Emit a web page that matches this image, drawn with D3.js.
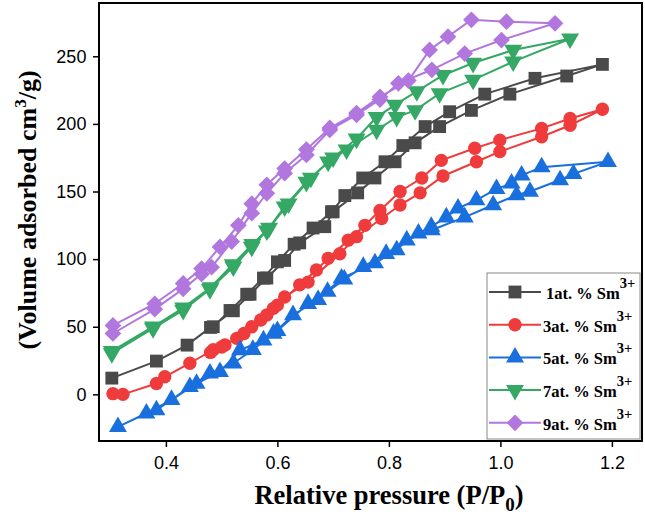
<!DOCTYPE html>
<html><head><meta charset="utf-8">
<script src="https://cdn.jsdelivr.net/npm/d3@7"></script>
<style>body{margin:0;background:#fff}svg{display:block}</style>
</head><body>
<svg id="c" width="645" height="521"></svg>
<script>
// ---- data ----
const seriesNames = ["1at. % Sm", "3at. % Sm", "5at. % Sm", "7at. % Sm", "9at. % Sm"];
const xTicks = [0.4, 0.6, 0.8, 1.0, 1.2];
const yTicks = [0, 50, 100, 150, 200, 250];

const s1X = [0.303,0.383,0.438,0.480,0.521,0.551,0.581,0.613,0.640,0.685,0.700,0.744,0.775,0.811,0.847,0.891,0.948,1.017,1.119,1.183,
             1.062,0.972,0.909,0.865,0.825,0.793,0.753,0.721,0.697,0.664,0.630,0.600,0.575,0.545,0.515,0.485];
const s1Y = [12,24.6,36.4,49.5,61.8,74,86,99,112,124,135,149,160,172,186,198,210,222,235.4,244,
             233.7,222,209,198,184,172,160,147,135,123,111,98,86,74,62,50];

const s3X = [0.305,0.323,0.383,0.398,0.443,0.485,0.506,0.527,0.554,0.581,0.593,0.613,0.655,0.712,0.742,0.787,0.820,0.856,0.897,0.957,0.999,1.074,1.125,1.183,
             1.125,1.074,0.999,0.954,0.894,0.859,0.820,0.784,0.757,0.727,0.691,0.670,0.640,0.600,0.570,0.540,0.500,0.480];
const s3Y = [0.5,0,8,13,23,33,36.5,41.4,50,58.7,63.6,72,83,104,116.6,130,140,149,161.5,172,179.5,190.5,199,210.8,
             204,196.7,188,182,173,160,150,136,125,114,100.6,92,81,66,55,45,35,31];

const s5X = [0.314,0.365,0.410,0.443,0.479,0.521,0.556,0.593,0.628,0.673,0.715,0.775,0.814,0.832,0.877,0.936,0.987,1.029,1.053,1.107,1.131,1.193,
             1.074,1.038,1.020,0.993,0.957,0.924,0.903,0.876,0.853,0.795,0.754,0.720,0.690,0.655,0.600,0.575,0.533,0.497,0.455,0.383];
const s5Y = [-24,-14,-4,5.6,15.5,23,33,45,58.7,70,85.8,97,106.7,114,121.5,131,140,147.4,150,158.5,163,172,
             168,162,156,152,143.7,137.6,131,124,119,104,94.4,85,76,67,47,40,32.8,16.7,8,-11.6];

const s7X = [0.303,0.377,0.431,0.479,0.521,0.554,0.581,0.613,0.652,0.691,0.724,0.778,0.814,0.847,0.891,0.951,1.023,1.125,
             1.023,0.951,0.897,0.850,0.811,0.778,0.742,0.700,0.660,0.620,0.585,0.555,0.520,0.480,0.431,0.377,0.303];
const s7Y = [30.3,48.8,62.3,77.7,94.4,109,121,138.8,157,172,181,195.5,205,210,222.6,232.5,246,263,
             254.6,245,236,224,214,205,189,175,160,141,123,111,96,79,64,50,32];

const s9X = [0.305,0.380,0.431,0.464,0.482,0.518,0.554,0.581,0.613,0.652,0.694,0.742,0.784,0.817,0.877,0.936,1.002,1.098,
             1.011,0.948,0.906,0.873,0.835,0.784,0.742,0.694,0.652,0.613,0.581,0.554,0.530,0.497,0.464,0.431,0.380,0.305];
const s9Y = [45,63,78,89,94,113,134,148.7,163.5,177,195.5,206.6,218,230,240,252,262,274.4,
             275.6,277,264.5,254.7,232,220,208,197,181,167,155,141,125,109,93,82,67,51];

const seriesX = [s1X, s3X, s5X, s7X, s9X];
const seriesY = [s1Y, s3Y, s5Y, s7Y, s9Y];

// ---- styles ----
const colors = ["#4a4a4a", "#ef3b3b", "#1a6fdf", "#34a864", "#b177de"];
const shapes = [
  {type: d3.symbolSquare, size: 165, rot: 0},
  {type: d3.symbolCircle, size: 140, rot: 0},
  {type: d3.symbolTriangle, size: 140, rot: 0},
  {type: d3.symbolTriangle, size: 140, rot: 180},
  {type: d3.symbolSquare, size: 140, rot: 45}
];

const svg = d3.select("#c");
const L = 99, R = 642, T = 3, B = 441;
const x = d3.scaleLinear().domain([0.28, 1.254]).range([L, R]);
const y = d3.scaleLinear().domain([-34.5, 289.4]).range([B, T]);

// axes
const xAxis = svg.append("g").attr("transform", `translate(0,${B})`)
  .call(d3.axisBottom(x).tickValues(xTicks).tickFormat(d3.format(".1f")).tickSize(6).tickSizeOuter(0));
const yAxis = svg.append("g").attr("transform", `translate(${L},0)`)
  .call(d3.axisLeft(y).tickValues(yTicks).tickSize(6).tickSizeOuter(0));
[xAxis, yAxis].forEach(g => {
  g.select(".domain").remove();
  g.selectAll(".tick line").attr("stroke", "#000").attr("stroke-width", 1.5);
  g.selectAll(".tick text").attr("font-family", "Liberation Sans, Arial, sans-serif")
    .attr("font-size", 18).attr("fill", "#000");
});
xAxis.selectAll(".tick text").attr("dy", "1.05em");
yAxis.selectAll(".tick text").attr("dx", "-0.2em");

// series
const line = d3.line();
seriesX.forEach((xs, i) => {
  const pts = xs.map((v, j) => [x(v), y(seriesY[i][j])]);
  const g = svg.append("g");
  g.append("path").attr("d", line(pts)).attr("fill", "none")
    .attr("stroke", colors[i]).attr("stroke-width", 2);
  const sym = d3.symbol().type(shapes[i].type).size(shapes[i].size);
  g.selectAll("path.m").data(pts).join("path").attr("class", "m")
    .attr("d", sym())
    .attr("transform", p => `translate(${p[0]},${p[1]}) rotate(${shapes[i].rot})`)
    .attr("fill", colors[i]);
});

// frame
svg.append("rect").attr("x", L).attr("y", T).attr("width", R - L).attr("height", B - T)
  .attr("fill", "none").attr("stroke", "#000").attr("stroke-width", 2);

// legend
const lg = svg.append("g");
lg.append("rect").attr("x", 487).attr("y", 273).attr("width", 153).attr("height", 166)
  .attr("fill", "#fff").attr("stroke", "#888").attr("stroke-width", 1);
seriesNames.forEach((name, i) => {
  const ry = 292 + i * 32.7;
  lg.append("line").attr("x1", 489).attr("x2", 541).attr("y1", ry).attr("y2", ry)
    .attr("stroke", colors[i]).attr("stroke-width", 2);
  lg.append("path").attr("d", d3.symbol().type(shapes[i].type).size(shapes[i].size)())
    .attr("transform", `translate(515,${ry}) rotate(${shapes[i].rot})`).attr("fill", colors[i]);
  const t = lg.append("text").attr("x", i === 0 ? 546 : 543).attr("y", ry + 7)
    .attr("font-family", "Liberation Serif, Times New Roman, serif").attr("font-weight", "bold")
    .attr("font-size", 16.5).attr("fill", "#000");
  t.append("tspan").text(name);
  t.append("tspan").attr("dy", -11).attr("font-size", 14.5).text("3+");
});

// axis titles
const xt = svg.append("text").attr("x", 389).attr("y", 504).attr("text-anchor", "middle")
  .attr("font-family", "Liberation Serif, Times New Roman, serif").attr("font-weight", "bold")
  .attr("font-size", 26.5).attr("fill", "#000");
xt.append("tspan").text("Relative pressure (P/P");
xt.append("tspan").attr("dy", 7).attr("font-size", 19).text("0");
xt.append("tspan").attr("dy", -7).text(")");

const yt = svg.append("text").attr("transform", "translate(36,210) rotate(-90)").attr("text-anchor", "middle")
  .attr("font-family", "Liberation Serif, Times New Roman, serif").attr("font-weight", "bold")
  .attr("font-size", 26).attr("fill", "#000");
yt.append("tspan").text("(Volume adsorbed cm");
yt.append("tspan").attr("dy", -10).attr("font-size", 17).text("3");
yt.append("tspan").attr("dy", 10).text("/g)");
</script>
</body></html>
